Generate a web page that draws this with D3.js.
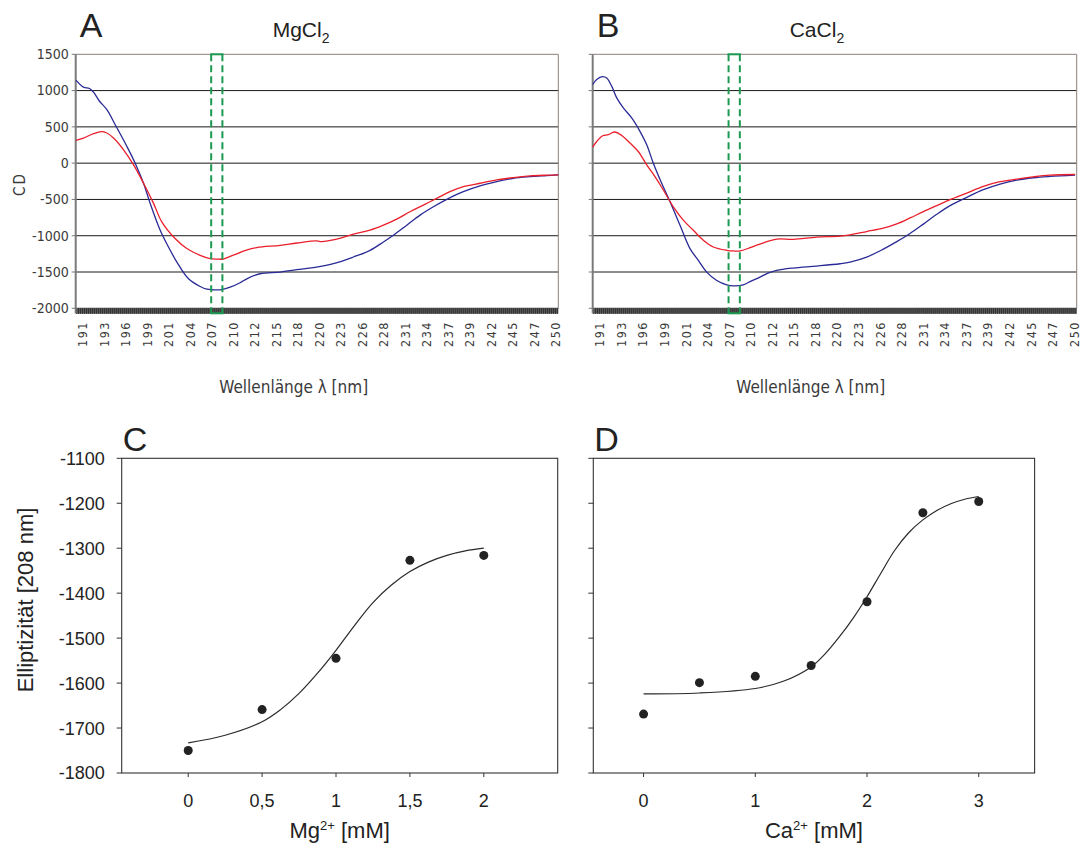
<!DOCTYPE html>
<html>
<head>
<meta charset="utf-8">
<script src="https://cdn.jsdelivr.net/npm/d3@7/dist/d3.min.js"></script>
<style>
body { margin: 0; background: #ffffff; }
</style>
</head>
<body>
<svg id="chart" width="1088" height="848"></svg>
<script>
// ---------------------------------------------------------------------------
// Data

// CD spectra (A, B): x axis labels as printed, y axis values
var wavelengthLabels = ["191", "193", "196", "199", "201", "204", "207", "210", "212", "215", "218",
    "220", "223", "226", "228", "231", "234", "237", "239", "242", "245", "247", "250"];
var cdTicks = [1500, 1000, 500, 0, -500, -1000, -1500, -2000];
var markedRange = [207.0, 208.4];

// A, MgCl2 - blue spectrum [nm, CD]
var mgBlue = [[190.13, 1144], [191.07, 1047], [191.82, 1029], [192.32, 978], [193.07, 853], [193.99, 738],
    [195.03, 530], [196.49, 230], [197.52, 0], [198.56, -277], [199.39, -554], [200.64, -924],
    [201.67, -1155], [202.72, -1363], [204.17, -1593], [205.63, -1700], [206.46, -1737], [207.3, -1745],
    [208.12, -1745], [209.37, -1709], [210.61, -1648], [211.5, -1590], [213.11, -1524], [215.6, -1501],
    [217.68, -1468], [219.75, -1440], [222.25, -1385], [224.74, -1293], [226.82, -1201], [228.48, -1086],
    [229.73, -993], [231.4, -855], [233.06, -716], [234.72, -601], [236.39, -499], [238.46, -393],
    [240.54, -314], [242.62, -255], [244.69, -208], [246.77, -186], [248.86, -172], [250.3, -162]];
// A, MgCl2 - red spectrum [nm, CD]
var mgRed = [[190.13, 313], [191.07, 346], [192.32, 406], [193.29, 434], [193.99, 416], [194.82, 346],
    [196.07, 184], [197.32, -24], [198.56, -277], [199.81, -554], [200.84, -809], [202.5, -1039],
    [203.96, -1177], [205.63, -1270], [206.87, -1316], [207.7, -1322], [208.53, -1321], [209.37, -1284],
    [210.2, -1250], [211.2, -1205], [212.68, -1163], [215.6, -1132], [217.68, -1100], [220.17, -1070],
    [220.79, -1082], [222.66, -1048], [224.74, -979], [226.82, -924], [228.48, -855], [230.14, -771],
    [231.8, -670], [233.46, -578], [235.13, -485], [236.78, -393], [238.46, -324], [240.54, -277],
    [242.62, -231], [244.69, -199], [246.77, -176], [248.8, -166], [250.3, -162]];

// B, CaCl2 - blue spectrum [nm, CD]
var caBlue = [[190.1, 1084], [190.6, 1154], [191.34, 1191], [191.84, 1172], [192.46, 1061], [193.09, 900],
    [193.91, 762], [194.95, 623], [195.98, 438], [196.82, 253], [197.64, 0], [198.68, -277],
    [199.72, -532], [200.96, -855], [202.2, -1177], [203.24, -1339], [204.28, -1501], [205.53, -1616],
    [206.77, -1676], [207.59, -1690], [208.83, -1676], [209.8, -1625], [210.91, -1570], [211.9, -1515],
    [212.99, -1477], [215.05, -1445], [217.97, -1418], [220.86, -1386], [222.11, -1363], [224.18, -1294],
    [226.25, -1185], [227.92, -1082], [229.57, -970], [231.23, -840], [232.89, -705], [234.55, -585],
    [236.63, -471], [238.69, -366], [240.77, -288], [242.85, -233], [244.91, -201], [246.99, -183],
    [250.1, -165]];
// B, CaCl2 - red spectrum [nm, CD]
var caRed = [[190.1, 222], [190.6, 299], [191.34, 378], [192.04, 392], [192.79, 429], [193.71, 382],
    [194.74, 277], [195.77, 161], [196.82, -24], [197.85, -186], [198.88, -370], [200.13, -601],
    [201.37, -785], [202.61, -924], [203.86, -1062], [205.1, -1155], [206.77, -1201], [207.6, -1210],
    [208.42, -1210], [209.67, -1165], [210.9, -1115], [212.99, -1047], [215.05, -1050], [217.97, -1020],
    [220.86, -1006], [222.11, -988], [224.18, -942], [226.25, -896], [227.92, -837], [229.57, -755],
    [231.23, -668], [232.89, -585], [234.55, -503], [236.63, -412], [238.69, -320], [240.77, -256],
    [242.85, -220], [244.91, -188], [246.99, -165], [250.1, -156]];

// C, D: ellipticity at 208 nm
var ellipTicks = [-1100, -1200, -1300, -1400, -1500, -1600, -1700, -1800];

var mgConc = [0, 0.5, 1, 1.5, 2];
var mgEllip = [-1750, -1659, -1545, -1327, -1316];
var mgTickValues = [0, 0.5, 1, 1.5, 2];
var mgTickLabels = ["0", "0,5", "1", "1,5", "2"];
var mgFitConc = [0, 0.25, 0.5, 0.625, 0.75, 0.875, 1, 1.125, 1.25, 1.375, 1.5, 1.625, 1.75, 1.875, 2];
var mgFitEllip = [-1733, -1716, -1686, -1659, -1623, -1578, -1527, -1472, -1421, -1382, -1352, -1331,
    -1316, -1306, -1300];

var caConc = [0, 0.5, 1, 1.5, 2, 2.5, 3];
var caEllip = [-1669, -1599, -1585, -1561, -1419, -1221, -1196];
var caTickValues = [0, 1, 2, 3];
var caTickLabels = ["0", "1", "2", "3"];
var caFitConc = [0, 0.5, 1, 1.25, 1.5, 1.625, 1.75, 1.875, 2, 2.125, 2.25, 2.375, 2.5, 2.625, 2.75, 2.875, 3];
var caFitEllip = [-1624, -1622, -1612, -1596, -1564, -1535, -1498, -1456, -1408, -1355, -1304, -1265,
    -1237, -1216, -1201, -1191, -1185];

// ---------------------------------------------------------------------------

var svg = d3.select("#chart");
var narrowFont = "'Liberation Sans Narrow', 'DejaVu Sans Condensed', 'Arial Narrow', sans-serif";
var plainFont = "'Liberation Sans', Arial, Helvetica, sans-serif";

// Spectra panels (A and B)
function draw_Spectrum(left, right, blue, red, showLabels, letter, salt)
{
    var top = 54.3, bottom = 308.3;
    var x = d3.scaleLinear().domain([190.1, 250.3]).range([left, right]);
    var y = d3.scaleLinear().domain([-2000, 1500]).range([bottom, top]);
    var g = svg.append("g");

    // horizontal grid lines
    g.selectAll(".grid")
    .data(cdTicks)
    .enter().append("line")
    .attr("x1", left).attr("x2", right)
    .attr("y1", d => y(d)).attr("y2", d => y(d))
    .attr("stroke", d => d == 1500 ? "#8c807c" : "#1a1a1a")
    .attr("stroke-width", 1);

    // right border
    g.append("line")
    .attr("x1", right).attr("x2", right)
    .attr("y1", top).attr("y2", bottom)
    .attr("stroke", "#8c807c");

    // dense band of category ticks under the plot
    g.append("rect")
    .attr("x", left).attr("y", bottom)
    .attr("width", right - left).attr("height", 5.5)
    .attr("fill", "#5a5a5a");
    g.selectAll(".minor")
    .data(d3.range(190.2, 250.3, 0.25))
    .enter().append("line")
    .attr("x1", d => x(d)).attr("x2", d => x(d))
    .attr("y1", bottom).attr("y2", bottom + 5.5)
    .attr("stroke", "#2c2c2c")
    .attr("stroke-width", 0.9);

    // left axis and ticks
    g.append("line")
    .attr("x1", left).attr("x2", left)
    .attr("y1", top).attr("y2", bottom + 5)
    .attr("stroke", "#7a7a7a")
    .attr("stroke-width", 2);
    g.selectAll(".ytick")
    .data(cdTicks)
    .enter().append("line")
    .attr("x1", left - 4).attr("x2", left)
    .attr("y1", d => y(d)).attr("y2", d => y(d))
    .attr("stroke", "#7a7a7a");

    if (showLabels)
    {
        g.selectAll(".ylabel")
        .data(cdTicks)
        .enter().append("text")
        .attr("x", left - 7)
        .attr("y", d => y(d))
        .attr("dy", "0.35em")
        .attr("text-anchor", "end")
        .style("font-family", narrowFont)
        .style("font-size", "14px")
        .attr("fill", "#3a3a3a")
        .text(d => d);

        g.append("text")
        .attr("transform", "translate(25," + 184 + ") rotate(-90)")
        .attr("text-anchor", "middle")
        .style("font-family", narrowFont)
        .style("font-size", "15px")
        .style("letter-spacing", "2px")
        .attr("fill", "#3a3a3a")
        .text("CD");
    }

    // wavelength labels, evenly spaced like the category axis
    var xl = d3.scalePoint().domain(wavelengthLabels).range([x(191), x(250)]);
    g.selectAll(".xlabel")
    .data(wavelengthLabels)
    .enter().append("text")
    .attr("transform", d => "translate(" + xl(d) + ",321) rotate(-90)")
    .attr("dy", "0.35em")
    .attr("text-anchor", "end")
    .style("font-family", narrowFont)
    .style("font-size", "12.5px")
    .style("letter-spacing", "1.5px")
    .attr("fill", "#3a3a3a")
    .text(d => d);

    g.append("text")
    .attr("x", left + 218)
    .attr("y", 393)
    .attr("text-anchor", "middle")
    .style("font-family", narrowFont)
    .style("font-size", "17px")
    .attr("fill", "#3a3a3a")
    .text("Wellenlänge λ [nm]");

    // spectra
    var line = d3.line()
    .x(d => x(d[0]))
    .y(d => y(d[1]))
    .curve(d3.curveCatmullRom.alpha(0.5));

    g.append("path")
    .attr("d", line(blue))
    .attr("fill", "none")
    .attr("stroke", "#2a2a96")
    .attr("stroke-width", 1.3);
    g.append("path")
    .attr("d", line(red))
    .attr("fill", "none")
    .attr("stroke", "#ea1f2b")
    .attr("stroke-width", 1.3);

    // green dashed box at 208 nm
    var bx = markedRange.map(d => x(d));
    g.selectAll(".mark")
    .data(bx)
    .enter().append("line")
    .attr("x1", d => d).attr("x2", d => d)
    .attr("y1", top).attr("y2", bottom + 5)
    .attr("stroke", "#1c9a52")
    .attr("stroke-width", 2)
    .attr("stroke-dasharray", "7,4");
    g.selectAll(".cap")
    .data([top, bottom + 5])
    .enter().append("line")
    .attr("x1", bx[0] - 1).attr("x2", bx[1] + 1)
    .attr("y1", d => d).attr("y2", d => d)
    .attr("stroke", "#1c9a52")
    .attr("stroke-width", 2);

    // titles
    g.append("text")
    .attr("x", left + 4)
    .attr("y", 37)
    .style("font-family", plainFont)
    .style("font-size", "34px")
    .attr("fill", "#222")
    .text(letter);

    var title = g.append("text")
    .attr("x", left + 197)
    .attr("y", 37)
    .style("font-family", plainFont)
    .style("font-size", "21px")
    .attr("fill", "#222");
    title.append("tspan").text(salt);
    title.append("tspan").attr("dy", 6).style("font-size", "14px").text("2");
}

// Titration panels (C and D)
function draw_Titration(left, right, xDomain, tickValues, tickLabels, conc, ellip, fitConc, fitEllip, showLabels, letter, ion)
{
    var top = 458.3, bottom = 773;
    var x = d3.scaleLinear().domain(xDomain).range([left, right]);
    var y = d3.scaleLinear().domain([-1800, -1100]).range([bottom, top]);
    var g = svg.append("g");

    // frame
    g.append("rect")
    .attr("x", left).attr("y", top)
    .attr("width", right - left).attr("height", bottom - top)
    .attr("fill", "none")
    .attr("stroke", "#333")
    .attr("stroke-width", 1.1);

    g.selectAll(".ytick")
    .data(ellipTicks)
    .enter().append("line")
    .attr("x1", left - 5).attr("x2", left)
    .attr("y1", d => y(d)).attr("y2", d => y(d))
    .attr("stroke", "#333");

    if (showLabels)
    {
        g.selectAll(".ylabel")
        .data(ellipTicks)
        .enter().append("text")
        .attr("x", left - 17)
        .attr("y", d => y(d))
        .attr("dy", "0.36em")
        .attr("text-anchor", "end")
        .style("font-family", plainFont)
        .style("font-size", "18px")
        .attr("fill", "#222")
        .text(d => d);

        g.append("text")
        .attr("transform", "translate(33,600) rotate(-90)")
        .attr("text-anchor", "middle")
        .style("font-family", plainFont)
        .style("font-size", "22px")
        .attr("fill", "#222")
        .text("Elliptizität [208 nm]");
    }

    g.selectAll(".xtick")
    .data(tickValues)
    .enter().append("line")
    .attr("x1", d => x(d)).attr("x2", d => x(d))
    .attr("y1", bottom).attr("y2", bottom + 4)
    .attr("stroke", "#333");

    g.selectAll(".xlabel")
    .data(tickValues)
    .enter().append("text")
    .attr("x", d => x(d))
    .attr("y", 807)
    .attr("text-anchor", "middle")
    .style("font-family", plainFont)
    .style("font-size", "18px")
    .attr("fill", "#222")
    .text((d, i) => tickLabels[i]);

    var xt = g.append("text")
    .attr("x", (left + right) / 2)
    .attr("y", 838)
    .attr("text-anchor", "middle")
    .style("font-family", plainFont)
    .style("font-size", "22px")
    .attr("fill", "#222");
    xt.append("tspan").text(ion);
    xt.append("tspan").attr("dy", -8).style("font-size", "13px").text("2+");
    xt.append("tspan").attr("dy", 8).text(" [mM]");

    // fitted curve
    var fit = fitConc.map((d, i) => [d, fitEllip[i]]);
    var line = d3.line()
    .x(d => x(d[0]))
    .y(d => y(d[1]))
    .curve(d3.curveCatmullRom.alpha(0.5));
    g.append("path")
    .attr("d", line(fit))
    .attr("fill", "none")
    .attr("stroke", "#2a2a2a")
    .attr("stroke-width", 1.2);

    // measured points
    g.selectAll(".dot")
    .data(conc)
    .enter().append("circle")
    .attr("cx", d => x(d))
    .attr("cy", (d, i) => y(ellip[i]))
    .attr("r", 4.5)
    .attr("fill", "#222");

    g.append("text")
    .attr("x", left + 1)
    .attr("y", 451)
    .style("font-family", plainFont)
    .style("font-size", "34px")
    .attr("fill", "#222")
    .text(letter);
}

draw_Spectrum(75.7, 558.3, mgBlue, mgRed, true, "A", "MgCl");
draw_Spectrum(592.7, 1076.7, caBlue, caRed, false, "B", "CaCl");
draw_Titration(121.7, 557.7, [-0.45, 2.5], mgTickValues, mgTickLabels, mgConc, mgEllip, mgFitConc, mgFitEllip, true, "C", "Mg");
draw_Titration(593.3, 1034.6, [-0.45, 3.5], caTickValues, caTickLabels, caConc, caEllip, caFitConc, caFitEllip, false, "D", "Ca");
</script>
</body>
</html>
